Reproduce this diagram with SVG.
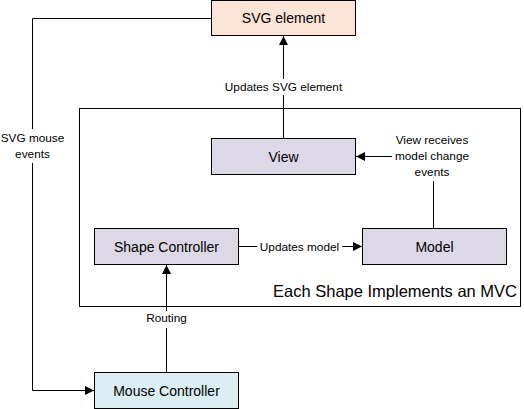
<svg xmlns="http://www.w3.org/2000/svg" width="524" height="409" viewBox="0 0 524 409">
<style>
.box{stroke:#000;stroke-width:1}
.lbl{font-family:"Liberation Sans",Arial,sans-serif;font-size:14px;fill:#000;text-anchor:middle}
.el{font-family:"Liberation Sans",Arial,sans-serif;font-size:11.8px;fill:#000;text-anchor:middle}
.c{fill:none;stroke:#000;stroke-width:1}
</style>
<defs>
<marker id="ah" viewBox="0 0 10 10" refX="10" refY="5" markerWidth="10" markerHeight="9" markerUnits="userSpaceOnUse" orient="auto">
<path d="M0,0 L10,5 L0,10 z" fill="#000"/>
</marker>
</defs>
<rect width="524" height="409" fill="#fff"/>
<g id="mvc-frame">
<rect x="79.5" y="108.5" width="441" height="198" fill="none" class="box"/>
<text x="517" y="297" font-family="Liberation Sans,Arial,sans-serif" font-size="16.5" text-anchor="end">Each Shape Implements an MVC</text>
</g>
<g id="svg-element">
<rect x="211.5" y="0.5" width="144" height="35" fill="#FCE4D6" class="box"/>
<text x="283.5" y="23" class="lbl">SVG element</text>
</g>
<g id="view">
<rect x="211.5" y="138.5" width="144" height="36" fill="#DDD8E6" class="box"/>
<text x="283.5" y="161.5" class="lbl">View</text>
</g>
<g id="shape-controller">
<rect x="94.5" y="228.5" width="144" height="36" fill="#DDD8E6" class="box"/>
<text x="166.5" y="251.5" class="lbl">Shape Controller</text>
</g>
<g id="model">
<rect x="362.5" y="228.5" width="144" height="36" fill="#DDD8E6" class="box"/>
<text x="434.5" y="251.5" class="lbl">Model</text>
</g>
<g id="mouse-controller">
<rect x="94.5" y="372.5" width="144" height="36" fill="#DAEEF3" class="box"/>
<text x="166.5" y="395.5" class="lbl">Mouse Controller</text>
</g>
<g id="connectors">
<path class="c" d="M283.5,138 V95"/>
<path class="c" d="M283.5,79 V36" marker-end="url(#ah)"/>
<text x="283.5" y="91" class="el">Updates SVG element</text>
<path class="c" d="M433.5,228 V181"/>
<path class="c" d="M392,156.5 H356" marker-end="url(#ah)"/>
<text x="432" y="144" class="el">View receives</text>
<text x="432" y="160" class="el">model change</text>
<text x="432" y="176" class="el">events</text>
<path class="c" d="M238.5,246.5 H257"/>
<path class="c" d="M342,246.5 H362" marker-end="url(#ah)"/>
<text x="299.5" y="250.5" class="el">Updates model</text>
<path class="c" d="M166.5,372 V328"/>
<path class="c" d="M166.5,311 V265" marker-end="url(#ah)"/>
<text x="166.5" y="322" class="el">Routing</text>
<path class="c" d="M211,18.5 H32.5 V129"/>
<path class="c" d="M32.5,163 V390.5 H94" marker-end="url(#ah)"/>
<text x="32.5" y="142" class="el">SVG mouse</text>
<text x="32.5" y="158" class="el">events</text>
</g>
</svg>
